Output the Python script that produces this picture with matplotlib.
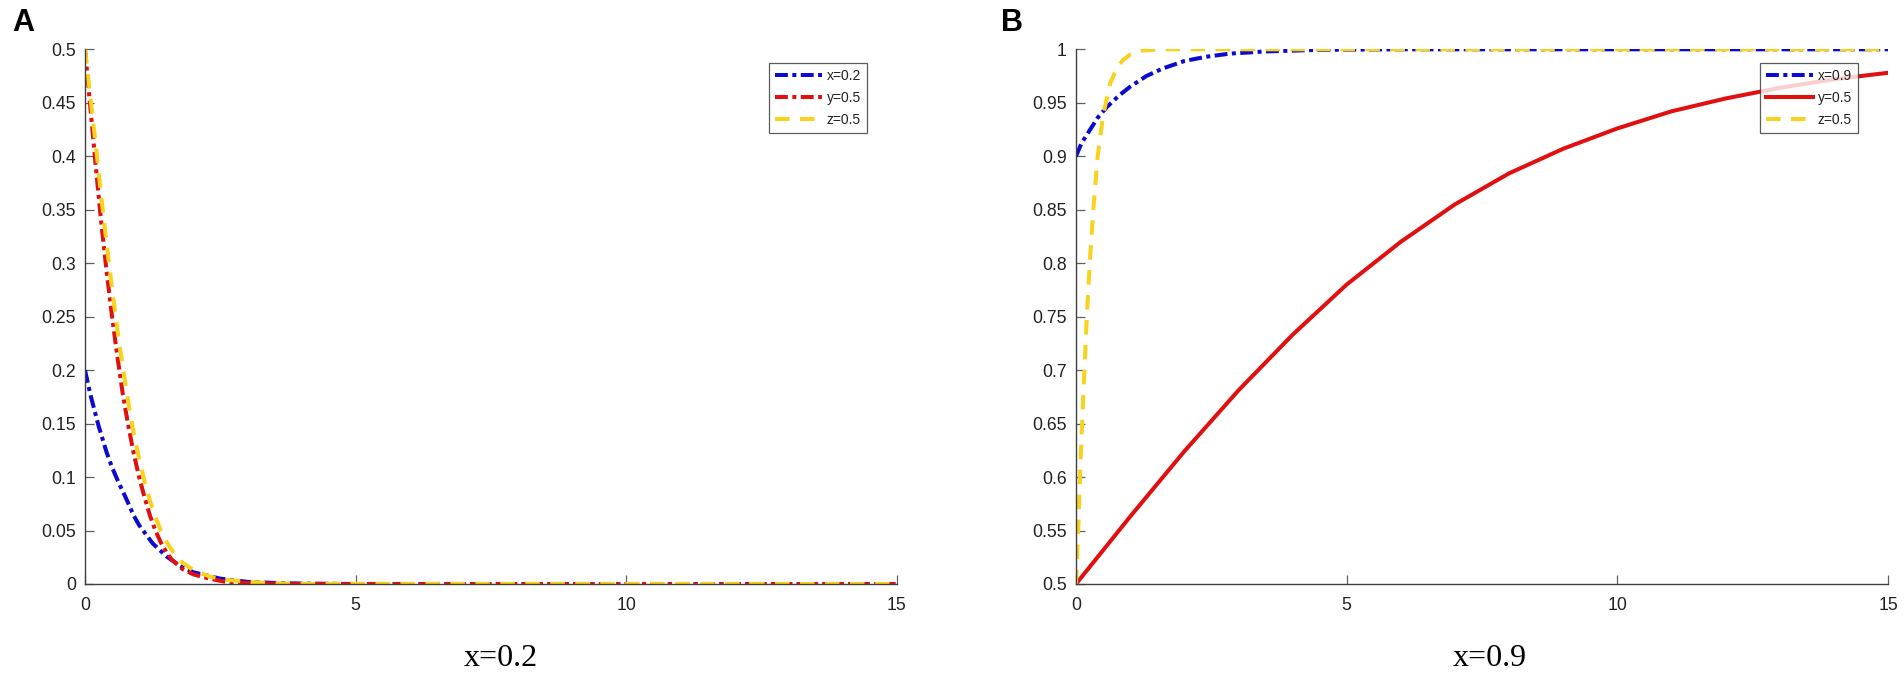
import numpy as np
import matplotlib
matplotlib.use("Agg")
import matplotlib.pyplot as plt
from matplotlib.ticker import FuncFormatter

# dados (painel A, x=0.2)
tA_x = [0, 0.1, 0.25, 0.4, 0.5, 0.62, 0.75, 0.9, 1.0, 1.25, 1.5, 1.75, 2.0, 2.5, 3.0, 3.5, 4.0, 5.0, 15]
vA_x = [0.2, 0.177, 0.148, 0.123, 0.109, 0.095, 0.081, 0.064, 0.055, 0.038, 0.026, 0.017, 0.011, 0.005, 0.002, 0.001, 0.0004, 0.0, 0.0]

tA_y = [0, 0.1, 0.2, 0.3, 0.4, 0.5, 0.6, 0.7, 0.8, 0.9, 1.0, 1.1, 1.2, 1.3, 1.4, 1.5, 1.6, 1.8, 2.0, 2.3, 2.6, 3.0, 3.5, 4.0, 15]
vA_y = [0.5, 0.445, 0.39, 0.338, 0.292, 0.25, 0.212, 0.177, 0.148, 0.122, 0.1, 0.081, 0.064, 0.05, 0.039, 0.03, 0.023, 0.014, 0.009, 0.005, 0.002, 0.001, 0.0003, 0.0, 0.0]

tA_z = [0, 0.1, 0.2, 0.3, 0.4, 0.5, 0.6, 0.7, 0.8, 0.9, 1.0, 1.1, 1.2, 1.3, 1.4, 1.5, 1.6, 1.8, 2.0, 2.3, 2.6, 3.0, 3.5, 4.0, 15]
vA_z = [0.5, 0.455, 0.41, 0.362, 0.318, 0.276, 0.237, 0.202, 0.17, 0.141, 0.117, 0.096, 0.078, 0.063, 0.05, 0.04, 0.032, 0.02, 0.013, 0.007, 0.004, 0.002, 0.0007, 0.0002, 0.0]

# painel B, x=0.9
tB_x = [0, 0.1, 0.25, 0.4, 0.57, 0.8, 1.0, 1.3, 1.6, 2.0, 2.4, 2.85, 3.5, 4.5, 6.0, 15]
vB_x = [0.9, 0.912, 0.924, 0.936, 0.946, 0.957, 0.965, 0.975, 0.982, 0.989, 0.993, 0.996, 0.998, 0.9995, 1.0, 1.0]

tB_y = [0, 1, 2, 3, 4, 5, 6, 7, 8, 9, 10, 11, 12, 13, 14, 15]
vB_y = [0.5, 0.563, 0.624, 0.681, 0.733, 0.78, 0.82, 0.855, 0.884, 0.907, 0.926, 0.942, 0.954, 0.964, 0.972, 0.978]

tB_z = [0, 0.04, 0.08, 0.13, 0.2, 0.26, 0.32, 0.4, 0.5, 0.63, 0.75, 0.87, 1.0, 1.24, 1.6, 15]
vB_z = [0.5, 0.55, 0.61, 0.67, 0.75, 0.805, 0.85, 0.9, 0.938, 0.968, 0.982, 0.99, 0.995, 0.999, 1.0, 1.0]

xticks = [0, 5, 10, 15]
yticksA = [0, 0.05, 0.1, 0.15, 0.2, 0.25, 0.3, 0.35, 0.4, 0.45, 0.5]
yticksB = [0.5, 0.55, 0.6, 0.65, 0.7, 0.75, 0.8, 0.85, 0.9, 0.95, 1]
labelsA = ["x=0.2", "y=0.5", "z=0.5"]
labelsB = ["x=0.9", "y=0.5", "z=0.5"]

azul = "#0a0ad0"
vermelho = "#e01010"
amarelo = "#f8d21c"
traco_ponto = (0, (3.2, 1.1, 1.0, 1.1))
tracejado = (0, (3.6, 2.6))

plt.rcParams['font.family'] = ['Liberation Sans', 'DejaVu Sans']

fig = plt.figure(figsize=(19.04, 6.75), dpi=100)
axA = fig.add_axes([85/1904, 1-584/675, 812/1904, (584-49.3)/675])
axB = fig.add_axes([1076/1904, 1-584/675, 812/1904, (584-49.3)/675])

lw = 2.9
axA.plot(tA_x, vA_x, color=azul, lw=lw, linestyle=traco_ponto, label=labelsA[0])
axA.plot(tA_y, vA_y, color=vermelho, lw=lw, linestyle=traco_ponto, label=labelsA[1])
axA.plot(tA_z, vA_z, color=amarelo, lw=lw, linestyle=tracejado, label=labelsA[2])

axB.plot(tB_x, vB_x, color=azul, lw=lw, linestyle=traco_ponto, label=labelsB[0])
axB.plot(tB_y, vB_y, color=vermelho, lw=lw, linestyle='-', label=labelsB[1])
axB.plot(tB_z, vB_z, color=amarelo, lw=lw, linestyle=tracejado, label=labelsB[2])

fmt = FuncFormatter(lambda v, p: f'{v:g}')
for ax, yt, leg_x in [(axA, yticksA, 769), (axB, yticksB, 1760)]:
    ax.set_xlim(0, 15)
    ax.set_ylim(yt[0], yt[-1])
    ax.set_xticks(xticks)
    ax.set_yticks(yt)
    ax.yaxis.set_major_formatter(fmt)
    ax.xaxis.set_major_formatter(fmt)
    for s in ['top', 'right']:
        ax.spines[s].set_visible(False)
    for s in ['left', 'bottom']:
        ax.spines[s].set_color('#404040')
        ax.spines[s].set_linewidth(1.0)
    ax.tick_params(axis='both', direction='in', length=6.5, width=0.9,
                   color='#606060', labelsize=12.7, labelcolor='#222222')
    ax.tick_params(axis='y', pad=6.5)
    ax.tick_params(axis='x', pad=9.5)
    leg = ax.legend(loc='upper left', bbox_to_anchor=(leg_x/1904, 1-63/675),
                    bbox_transform=fig.transFigure, fontsize=10, fancybox=False,
                    handlelength=3.4, handletextpad=0.3, borderpad=0.45,
                    labelspacing=0.55, borderaxespad=0)
    leg.get_frame().set_edgecolor('#333333')
    leg.get_frame().set_linewidth(0.9)
    for t in leg.get_texts():
        t.set_color('#222222')

fig.text(23/1904, 1-23/675, 'A', fontsize=22, fontweight='bold', ha='center', va='center')
fig.text(1012/1904, 1-23/675, 'B', fontsize=22, fontweight='bold', ha='center', va='center')

fig.text(501/1904, 1-658/675, 'x=0.2', fontsize=23, family='Liberation Serif', ha='center', va='center')
fig.text(1490/1904, 1-658/675, 'x=0.9', fontsize=23, family='Liberation Serif', ha='center', va='center')

fig.savefig('out.png', dpi=100)
